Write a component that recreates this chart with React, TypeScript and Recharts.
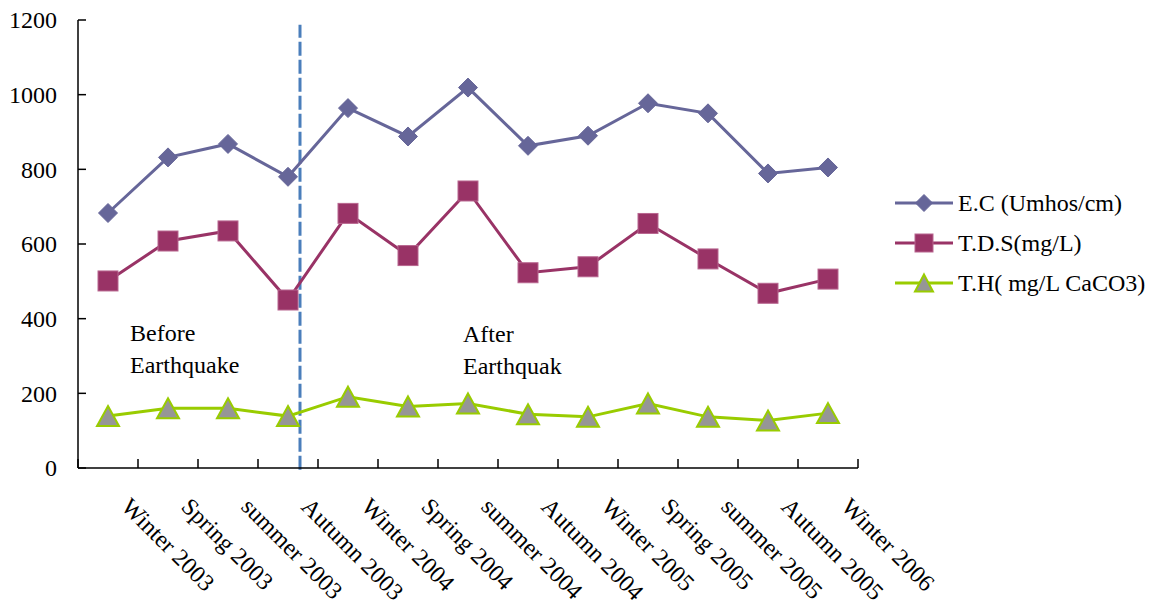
import { LineChart, Line, XAxis, YAxis, ReferenceLine, Legend } from 'recharts';

const seasons = [
    'Winter 2003', 'Spring 2003', 'summer 2003', 'Autumn 2003',
    'Winter 2004', 'Spring 2004', 'summer 2004', 'Autumn 2004',
    'Winter 2005', 'Spring 2005', 'summer 2005', 'Autumn 2005',
    'Winter 2006',
];
const ecValues = [683, 832, 868, 780, 964, 888, 1019, 863, 890, 977, 950, 789, 805];
const tdsValues = [501, 608, 635, 450, 682, 569, 742, 523, 539, 655, 560, 468, 506];
const thValues = [139, 160, 160, 139, 191, 165, 173, 144, 137, 173, 137, 127, 147];
const yTicks = [0, 200, 400, 600, 800, 1000, 1200];
// earthquake sits a little after the Autumn 2003 sample
const quakeIndex = 3.2;

const rows = seasons.map((season, i) => ({
    season,
    idx: i,
    ec: ecValues[i],
    tds: tdsValues[i],
    th: thValues[i],
}));

const W = 1157;
const H = 606;
const PLOT_LEFT = 78;
const PLOT_RIGHT = 858;
const PLOT_TOP = 20;
const PLOT_BOTTOM = 468;
const BAND = (PLOT_RIGHT - PLOT_LEFT) / seasons.length;

const EC_COLOR = '#666699';
const TDS_COLOR = '#993366';
const TH_COLOR = '#99cc00';
const TH_FILL = '#969696';
const FONT = '"Liberation Serif", "Times New Roman", serif';

function Diamond({ cx, cy, r = 9.5 }: { cx: number; cy: number; r?: number }) {
    return (
        <polygon
            points={`${cx},${cy - r} ${cx + r},${cy} ${cx},${cy + r} ${cx - r},${cy}`}
            fill={EC_COLOR}
            stroke={EC_COLOR}
            strokeWidth={1}
        />
    );
}

function Square({ cx, cy, s = 10 }: { cx: number; cy: number; s?: number }) {
    return <rect x={cx - s} y={cy - s} width={s * 2} height={s * 2} fill={TDS_COLOR} stroke="#b8668f" strokeWidth={1} />;
}

function Triangle({ cx, cy, w = 10.5, h = 9.5 }: { cx: number; cy: number; w?: number; h?: number }) {
    return (
        <polygon
            points={`${cx},${cy - h} ${cx + w},${cy + h} ${cx - w},${cy + h}`}
            fill={TH_FILL}
            stroke={TH_COLOR}
            strokeWidth={2}
            strokeLinejoin="miter"
        />
    );
}

const markerFor: Record<string, (cx: number, cy: number, small?: boolean) => JSX.Element> = {
    ec: (cx, cy, small) => <Diamond cx={cx} cy={cy} r={small ? 8.5 : 9.5} />,
    tds: (cx, cy, small) => <Square cx={cx} cy={cy} s={small ? 9 : 10} />,
    th: (cx, cy, small) => <Triangle cx={cx} cy={cy} w={small ? 9 : 11} h={small ? 8.5 : 10} />,
};

function SeasonTick(props: any) {
    const { x, payload } = props;
    const idx = seasons.indexOf(payload.value);
    const tx = x + 12;
    const ty = PLOT_BOTTOM + 40;
    return (
        <g>
            <line x1={x - BAND / 2} x2={x - BAND / 2} y1={PLOT_BOTTOM} y2={PLOT_BOTTOM - 9} stroke="#000" strokeWidth={1.5} />
            {idx === seasons.length - 1 && (
                <line x1={x + BAND / 2} x2={x + BAND / 2} y1={PLOT_BOTTOM} y2={PLOT_BOTTOM - 9} stroke="#000" strokeWidth={1.5} />
            )}
            <text x={tx} y={ty} transform={`rotate(45, ${tx}, ${ty})`} fontSize={24} fill="#000" fontFamily={FONT}>
                {payload.value}
            </text>
        </g>
    );
}

function ValueTick(props: any) {
    const { y, payload } = props;
    return (
        <g>
            <line x1={PLOT_LEFT} x2={PLOT_LEFT + 8} y1={y} y2={y} stroke="#000" strokeWidth={1.5} />
            <text x={57} y={y} dy="0.35em" textAnchor="end" fontSize={24} fill="#000" fontFamily={FONT}>
                {payload.value}
            </text>
        </g>
    );
}

function LegendBox(props: any) {
    const items = props.payload || [];
    return (
        <div style={{ fontFamily: FONT, fontSize: 24, color: '#000' }}>
            {items.map((item: any) => (
                <div key={item.dataKey} style={{ display: 'flex', alignItems: 'center', height: 40 }}>
                    <svg width={62} height={24} style={{ display: 'block' }}>
                        <line x1={2} x2={60} y1={12} y2={12} stroke={item.color} strokeWidth={3} />
                        {markerFor[item.dataKey](31, 12, true)}
                    </svg>
                    <span style={{ marginLeft: 3, whiteSpace: 'nowrap' }}>{item.value}</span>
                </div>
            ))}
        </div>
    );
}

function dotOf(key: string) {
    return (p: any) => <g key={`${key}-${p.index}`}>{markerFor[key](p.cx, p.cy)}</g>;
}

export default function App() {
    return (
        <div style={{ position: 'absolute', left: 0, top: 0, width: W, height: H, background: '#fff', fontFamily: FONT }}>
            <LineChart width={W} height={H} data={rows} margin={{ top: PLOT_TOP, right: W - PLOT_RIGHT, bottom: 0, left: 0 }}>
                <XAxis
                    dataKey="season"
                    type="category"
                    scale="band"
                    interval={0}
                    height={H - PLOT_BOTTOM}
                    axisLine={{ stroke: '#000', strokeWidth: 1.5 }}
                    tickLine={false}
                    tick={<SeasonTick />}
                />
                {/* hidden index axis, used to place the earthquake marker between two seasons */}
                <XAxis
                    xAxisId="idx"
                    dataKey="idx"
                    type="number"
                    domain={[-0.5, seasons.length - 0.5]}
                    allowDataOverflow
                    hide
                />
                <YAxis
                    domain={[0, 1200]}
                    ticks={yTicks}
                    interval={0}
                    width={PLOT_LEFT}
                    axisLine={{ stroke: '#000', strokeWidth: 1.5 }}
                    tickLine={false}
                    tick={<ValueTick />}
                />
                <ReferenceLine
                    xAxisId="idx"
                    segment={[{ x: quakeIndex, y: -5 }, { x: quakeIndex, y: 1187 }]}
                    ifOverflow="visible"
                    stroke="#4a7ebb"
                    strokeWidth={3}
                    strokeDasharray="14 4"
                />
                <Line
                    dataKey="ec"
                    name="E.C (Umhos/cm)"
                    stroke={EC_COLOR}
                    strokeWidth={3}
                    dot={dotOf('ec')}
                    activeDot={false}
                    isAnimationActive={false}
                />
                <Line
                    dataKey="tds"
                    name="T.D.S(mg/L)"
                    stroke={TDS_COLOR}
                    strokeWidth={3}
                    dot={dotOf('tds')}
                    activeDot={false}
                    isAnimationActive={false}
                />
                <Line
                    dataKey="th"
                    name="T.H( mg/L CaCO3)"
                    stroke={TH_COLOR}
                    strokeWidth={3}
                    dot={dotOf('th')}
                    activeDot={false}
                    isAnimationActive={false}
                />
                <Legend
                    layout="vertical"
                    align="center"
                    verticalAlign="middle"
                    content={<LegendBox />}
                    wrapperStyle={{ left: 893, top: 183, width: 264 }}
                />
            </LineChart>
            <div style={{ position: 'absolute', left: 130, top: 317, fontSize: 24, lineHeight: '32px' }}>
                Before
                <br />
                Earthquake
            </div>
            <div style={{ position: 'absolute', left: 463, top: 318, fontSize: 24, lineHeight: '32px' }}>
                After
                <br />
                Earthquak
            </div>
        </div>
    );
}
